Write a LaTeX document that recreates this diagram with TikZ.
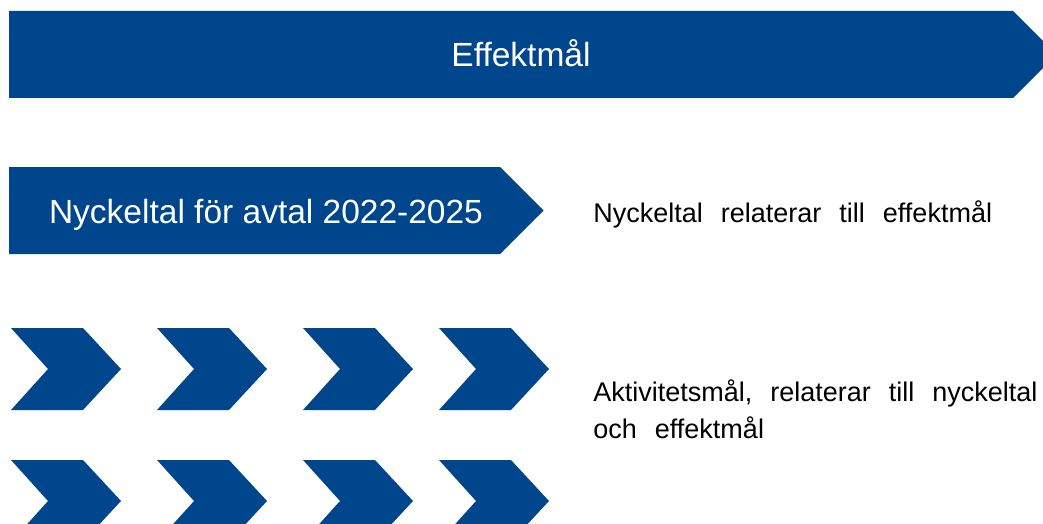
\documentclass[tikz,border=0pt]{standalone}
\usepackage{fontspec}
\setmainfont{Liberation Sans}
\newfontfamily\vidfont[WordSpace=2.4]{Liberation Sans}
\definecolor{malblue}{RGB}{0,70,140}

\begin{document}
\begin{tikzpicture}[x=0.5pt, y=-0.5pt,
  pil/.style={fill=malblue},
  rubrik/.style={text=white, font=\fontsize{16.75}{20}\selectfont, inner sep=0},
  forklaring/.style={font=\vidfont\fontsize{13.5}{18.5}\selectfont,
    inner sep=0, align=left}]
\useasboundingbox (0,0) rectangle (1043,524);
\fill[pil] (9,11) -- (1013,11) -- (1056.5,54.5) -- (1013,98) -- (9,98) -- cycle;
\node[rubrik, anchor=base] (effekt) at (521,66.7) {Effektmål};
\fill[pil] (9,167) -- (500,167) -- (543.5,210.5) -- (500,254) -- (9,254) -- cycle;
\node[rubrik, anchor=base] (nyckel) at (266,223.3) {Nyckeltal för avtal 2022-2025};
\foreach \x in {11,157,303,439}
  \foreach \y in {328,460}
    \fill[pil] (\x,\y) -- ++(72,0) -- ++(38,41) -- ++(-38,41) -- ++(-72,0) -- ++(37,-41) -- cycle;
\node[forklaring, anchor=base west] (nyckeltext) at (593,222.3) {Nyckeltal relaterar till effektmål};
\node[forklaring, anchor=base west] (aktivtext) at (593,438) {Aktivitetsmål, relaterar till nyckeltal\\och effektmål};
\end{tikzpicture}
\end{document}
